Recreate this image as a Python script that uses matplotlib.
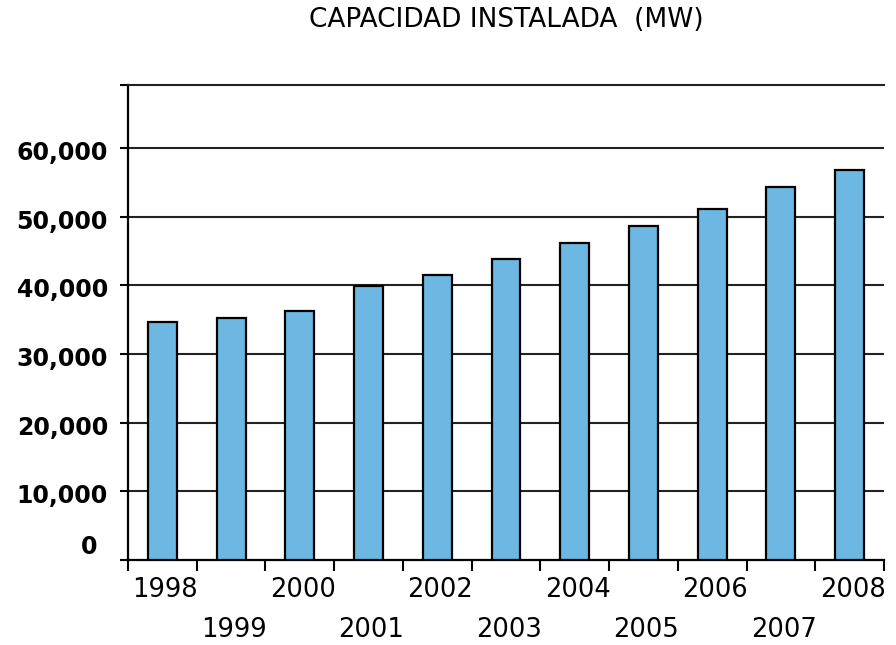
import numpy as np
import matplotlib
matplotlib.use("Agg")
import matplotlib.pyplot as plt
from matplotlib.transforms import ScaledTranslation

# data
years = ["1998", "1999", "2000", "2001", "2002", "2003",
         "2004", "2005", "2006", "2007", "2008"]
capacity_mw = [34700, 35200, 36300, 39900, 41500, 43900,
               46200, 48600, 51200, 54300, 56800]
ytick_values = [0, 10000, 20000, 30000, 40000, 50000, 60000]
ytick_labels = ["0", "10,000", "20,000", "30,000", "40,000", "50,000", "60,000"]
title = "CAPACIDAD INSTALADA  (MW)"

bar_color = "#6cb8e2"
ytop = 69200

fig = plt.figure(figsize=(8.96, 6.45), dpi=100)
ax = fig.add_axes([128 / 896, 1 - 560 / 645, (884 - 128) / 896, (560 - 85) / 645])

x = np.arange(len(years))
ax.bar(x, capacity_mw, width=0.42, color=bar_color, edgecolor="black",
       linewidth=1.6, zorder=3)

ax.set_xlim(-0.5, len(years) - 0.5)
ax.set_ylim(0, ytop)

# horizontal grid lines, behind the bars
for v in ytick_values[1:]:
    ax.axhline(v, color="#222222", lw=1.5, zorder=1)

ax.spines["right"].set_visible(False)
ax.spines["top"].set_linewidth(1.5)
ax.spines["top"].set_color("#222222")
ax.spines["left"].set_linewidth(1.6)
ax.spines["bottom"].set_linewidth(1.6)

ax.set_yticks(ytick_values + [ytop])
ax.set_yticklabels([])
ax.tick_params(axis="y", length=6, width=1.5, direction="out")
ax.set_xticks(np.arange(-0.5, len(years), 1.0))
ax.set_xticklabels([])
ax.tick_params(axis="x", length=8, width=1.5, direction="out")

px = fig.dpi_scale_trans

# y labels, placed by hand like the reference
ytrans = ax.get_yaxis_transform()
for v, lab in zip(ytick_values, ytick_labels):
    if v == 0:
        off = ScaledTranslation(-31 / 100, 13 / 100, px)
    else:
        off = ScaledTranslation(-20 / 100, -5 / 100, px)
    ax.text(0, v, lab, transform=ytrans + off, ha="right", va="center",
            fontsize=17, color="black", fontweight="bold")

# staggered year labels
xtrans = ax.get_xaxis_transform()
for i, lab in enumerate(years):
    dy = -30 if i % 2 == 0 else -70
    off = ScaledTranslation(3 / 100, dy / 100, px)
    ax.text(i, 0, lab, transform=xtrans + off, ha="center", va="center",
            fontsize=18.5, color="black")

fig.text(506 / 896, 1 - 20 / 645, title, ha="center", va="center",
         fontsize=19, color="black")

fig.savefig("out.png", dpi=100)
